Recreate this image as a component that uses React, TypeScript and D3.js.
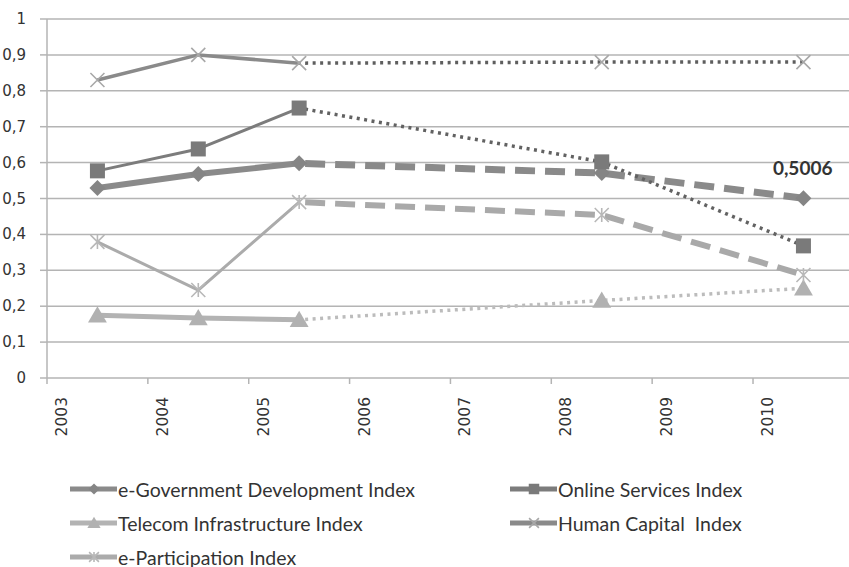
import React, { useEffect, useRef } from 'react';
import * as d3 from 'd3';

const years = [2003, 2004, 2005, 2006, 2007, 2008, 2009, 2010];
const surveyYears = [2003, 2004, 2005, 2008, 2010];
const yTicks = [0, 0.1, 0.2, 0.3, 0.4, 0.5, 0.6, 0.7, 0.8, 0.9, 1];

const eGov = [0.529, 0.568, 0.598, 0.571, 0.5006];
const onlineServices = [0.577, 0.638, 0.752, 0.602, 0.368];
const telecom = [0.175, 0.167, 0.162, 0.216, 0.25];
const humanCapital = [0.83, 0.9, 0.877, 0.88, 0.88];
const eParticipation = [0.379, 0.245, 0.49, 0.454, 0.287];

const seriesNames = [
  'e-Government Development Index',
  'Online Services Index',
  'Telecom Infrastructure Index',
  'Human Capital  Index',
  'e-Participation Index',
];

const W = 849;
const H = 567;

const App = () => {
  const svgRef = useRef(null);

  useEffect(() => {
    const svg = d3.select(svgRef.current);
    svg.selectAll('*').remove();

    const left = 47;
    const top = 19;
    const bottom = 378;
    const step = 100.86;

    const x = d3.scaleBand().domain(years.map(String)).range([left, left + step * years.length]).padding(0);
    const cx = (yr) => x(String(yr)) + x.bandwidth() / 2;
    const y = d3.scaleLinear().domain([0, 1]).range([bottom, top]);

    const txt = '#333';
    const grid = '#b4b4b4';

    // gridlines
    svg.append('g').selectAll('line')
      .data(yTicks.filter(d => d > 0))
      .enter().append('line')
      .attr('x1', left).attr('x2', W)
      .attr('y1', d => y(d)).attr('y2', d => y(d))
      .attr('stroke', grid).attr('stroke-width', 1.5);

    // axes
    svg.append('line').attr('x1', left).attr('x2', left).attr('y1', top).attr('y2', bottom)
      .attr('stroke', grid).attr('stroke-width', 1.5);
    svg.append('line').attr('x1', left).attr('x2', W).attr('y1', bottom).attr('y2', bottom)
      .attr('stroke', grid).attr('stroke-width', 1.5);

    svg.append('g').selectAll('line')
      .data(yTicks).enter().append('line')
      .attr('x1', left - 7).attr('x2', left)
      .attr('y1', d => y(d)).attr('y2', d => y(d))
      .attr('stroke', grid).attr('stroke-width', 1.5);

    svg.append('g').selectAll('text')
      .data(yTicks).enter().append('text')
      .attr('x', 26).attr('y', d => y(d))
      .attr('text-anchor', 'end').attr('dominant-baseline', 'central')
      .attr('font-family', 'DejaVu Sans').attr('font-size', 15).attr('fill', txt)
      .text(d => d3.format('.1~f')(d).replace('.', ','));

    svg.append('g').selectAll('line')
      .data(years).enter().append('line')
      .attr('x1', d => x(String(d))).attr('x2', d => x(String(d)))
      .attr('y1', bottom).attr('y2', bottom + 6)
      .attr('stroke', grid).attr('stroke-width', 1.5);

    svg.append('g').selectAll('text')
      .data(years).enter().append('text')
      .attr('transform', d => `translate(${x(String(d)) + 15},${bottom + 19}) rotate(-90)`)
      .attr('text-anchor', 'end').attr('dominant-baseline', 'central')
      .attr('font-family', 'DejaVu Sans').attr('font-size', 15.5).attr('fill', txt)
      .text(d => d);

    const mk = {
      diamond: (g, px, py, s, c) => g.append('path')
        .attr('d', `M${px},${py - s}L${px + s},${py}L${px},${py + s}L${px - s},${py}Z`).attr('fill', c),
      square: (g, px, py, s, c) => g.append('rect')
        .attr('x', px - s).attr('y', py - s).attr('width', 2 * s).attr('height', 2 * s).attr('fill', c),
      triangle: (g, px, py, s, c) => g.append('path')
        .attr('d', `M${px},${py - s}L${px + s * 1.05},${py + s * 0.8}L${px - s * 1.05},${py + s * 0.8}Z`).attr('fill', c),
      cross: (g, px, py, s, c) => g.append('path')
        .attr('d', `M${px - s},${py - s}L${px + s},${py + s}M${px - s},${py + s}L${px + s},${py - s}`)
        .attr('stroke', c).attr('stroke-width', 1.6).attr('fill', 'none'),
      star: (g, px, py, s, c) => g.append('path')
        .attr('d', `M${px - s},${py - s}L${px + s},${py + s}M${px - s},${py + s}L${px + s},${py - s}M${px},${py - s}L${px},${py + s}`)
        .attr('stroke', c).attr('stroke-width', 1.6).attr('fill', 'none'),
    };

    const series = [
      { vals: eGov, color: '#8a8a8a', w: 6, dash: '20,10', dashColor: '#8a8a8a', dashW: 7, marker: 'diamond', ms: 8, mc: '#858585' },
      { vals: onlineServices, color: '#7c7c7c', w: 3, dash: '3,4.5', dashColor: '#626262', dashW: 3.5, marker: 'square', ms: 7.5, mc: '#7a7a7a' },
      { vals: telecom, color: '#b3b3b3', w: 5, dash: '3,4.5', dashColor: '#bcbcbc', dashW: 3.5, marker: 'triangle', ms: 9, mc: '#b1b1b1' },
      { vals: humanCapital, color: '#8a8a8a', w: 3.5, dash: '3,4.5', dashColor: '#5e5e5e', dashW: 3.5, marker: 'cross', ms: 7, mc: '#a8a8a8' },
      { vals: eParticipation, color: '#ababab', w: 3, dash: '20,10', dashColor: '#a9a9a9', dashW: 6, marker: 'star', ms: 7, mc: '#b8b8b8' },
    ];

    const line = d3.line().x(d => cx(d[0])).y(d => y(d[1]));

    series.forEach(s => {
      const pts = surveyYears.map((yr, i) => [yr, s.vals[i]]);
      const g = svg.append('g');
      // measured years joined solid, later surveys dotted/dashed
      g.append('path').attr('d', line(pts.slice(0, 3)))
        .attr('fill', 'none').attr('stroke', s.color).attr('stroke-width', s.w)
        .attr('stroke-linejoin', 'round');
      g.append('path').attr('d', line(pts.slice(2)))
        .attr('fill', 'none').attr('stroke', s.dashColor).attr('stroke-width', s.dashW)
        .attr('stroke-dasharray', s.dash).attr('stroke-dashoffset', -6);
      pts.forEach(p => mk[s.marker](g, cx(p[0]), y(p[1]), s.ms, s.mc));
    });

    // data label
    svg.append('text')
      .attr('x', cx(2010) + 29).attr('y', y(eGov[4]) - 23)
      .attr('text-anchor', 'end')
      .attr('font-family', 'Lato').attr('font-weight', 'bold').attr('font-size', 19).attr('fill', '#333')
      .text(d3.format('.4f')(eGov[4]).replace('.', ','));

    // legend
    const legendPos = [[70, 489], [510, 489], [70, 523], [510, 523], [70, 557]];
    series.forEach((s, i) => {
      const [lx, ly] = legendPos[i];
      const g = svg.append('g');
      g.append('line').attr('x1', lx).attr('x2', lx + 47).attr('y1', ly).attr('y2', ly)
        .attr('stroke', s.color).attr('stroke-width', 5);
      mk[s.marker](g, lx + 24, ly, s.ms * 0.7, s.mc);
      g.append('text').attr('x', lx + 48).attr('y', ly)
        .attr('dominant-baseline', 'central')
        .attr('font-family', 'Lato').attr('font-size', 19.5).attr('fill', txt)
        .style('white-space', 'pre')
        .text(seriesNames[i]);
    });
  }, []);

  return (
    <svg ref={svgRef} width={W} height={H}
      style={{ position: 'absolute', left: 0, top: 0, background: '#fff' }} />
  );
};

export default App;
